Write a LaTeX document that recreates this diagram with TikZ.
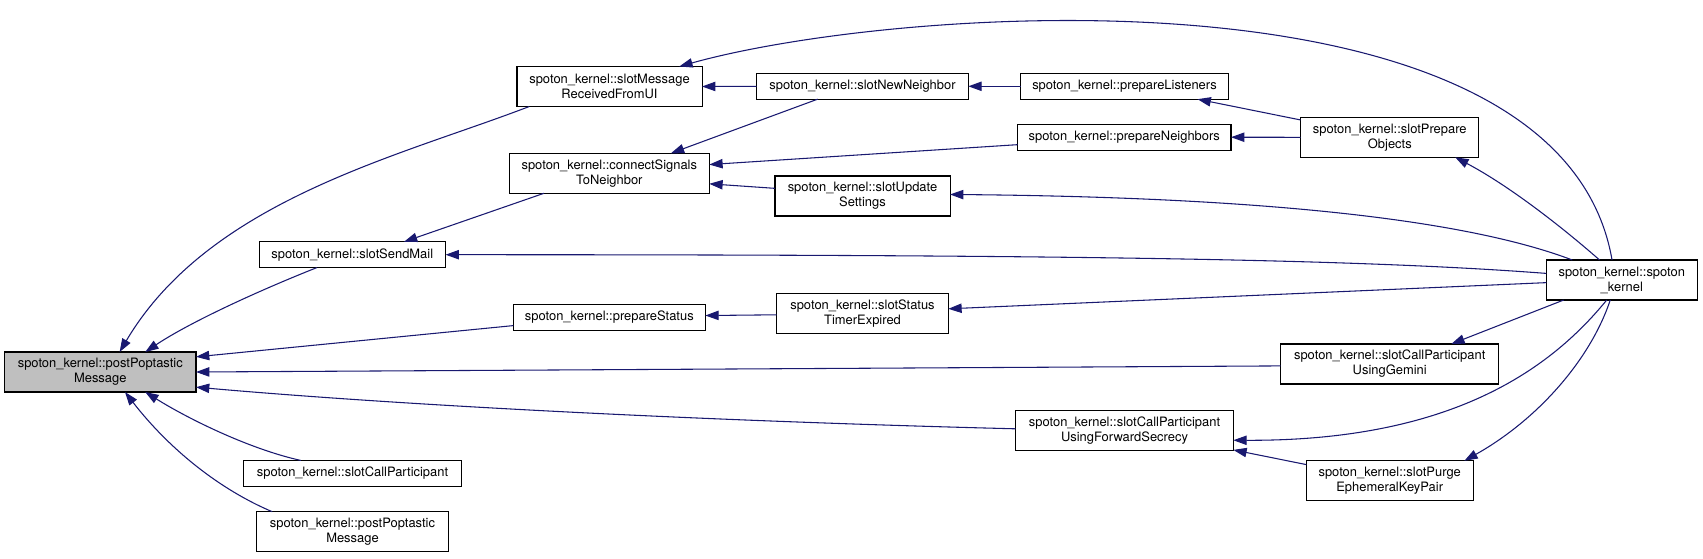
\documentclass[tikz,border=0pt]{standalone}
\usepackage{fontspec}
\setmainfont{TeX Gyre Heros}
\usepackage{xcolor}
\usetikzlibrary{arrows.meta}
\definecolor{edgeblue}{RGB}{25,25,112}
\definecolor{curgray}{RGB}{191,191,191}

\begin{document}
\begin{tikzpicture}[x=0.75pt,y=0.75pt,yscale=-1,xscale=1,
  fnbox/.style={draw=black, line width=0.8pt, fill=white, inner sep=0pt, outer sep=0pt, align=center, font=\fontsize{9.7}{11.25}\selectfont, minimum height=19.3pt},
  fnbox2/.style={fnbox, minimum height=30pt},
  callarrow/.style={draw=edgeblue, line width=0.8pt, -{Triangle[length=10pt,width=7pt]}}]
\useasboundingbox (0,0) rectangle (1703,558);

%Node: current function
\node [fnbox2, fill=curgray, minimum width=143.5pt] (pp) at (100.3,372) {spoton\_kernel::postPoptastic\\Message};
%Nodes: second column
\node [fnbox, minimum width=139.9pt] (ssm) at (352.3,254.7) {spoton\_kernel::slotSendMail};
\node [fnbox, minimum width=163.8pt] (scp) at (352.5,473.3) {spoton\_kernel::slotCallParticipant};
\node [fnbox2, minimum width=143.7pt] (ppm) at (352.5,531.7) {spoton\_kernel::postPoptastic\\Message};
%Nodes: third column
\node [fnbox2, minimum width=138.8pt] (smr) at (609.5,86.5) {spoton\_kernel::slotMessage\\ReceivedFromUI};
\node [fnbox2, minimum width=150pt] (cstn) at (609.3,173.3) {spoton\_kernel::connectSignals\\ToNeighbor};
\node [fnbox, minimum width=144pt] (pst) at (609.3,317.2) {spoton\_kernel::prepareStatus};
%Nodes: fourth column
\node [fnbox, minimum width=158.7pt] (snn) at (862.5,86.3) {spoton\_kernel::slotNewNeighbor};
\node [fnbox2, minimum width=131.3pt] (sus) at (862.5,196) {spoton\_kernel::slotUpdate\\Settings};
\node [fnbox2, minimum width=128.7pt] (sste) at (862.5,313.3) {spoton\_kernel::slotStatus\\TimerExpired};
%Nodes: fifth column
\node [fnbox, minimum width=155.7pt] (pl) at (1124.5,86.3) {spoton\_kernel::prepareListeners};
\node [fnbox, minimum width=160pt] (pn) at (1124.3,137.2) {spoton\_kernel::prepareNeighbors};
\node [fnbox2, minimum width=163.2pt] (scpfs) at (1124.5,430.7) {spoton\_kernel::slotCallParticipant\\UsingForwardSecrecy};
%Nodes: sixth column
\node [fnbox2, minimum width=133.7pt] (spo) at (1389.8,137.3) {spoton\_kernel::slotPrepare\\Objects};
\node [fnbox2, minimum width=163.5pt] (scpg) at (1389.7,364) {spoton\_kernel::slotCallParticipant\\UsingGemini};
\node [fnbox2, minimum width=125pt] (spek) at (1389.7,480.8) {spoton\_kernel::slotPurge\\EphemeralKeyPair};
%Node: constructor
\node [fnbox2, minimum width=113.3pt] (sk) at (1621.8,280) {spoton\_kernel::spoton\\\_kernel};

%Curve Lines: callers of postPoptasticMessage
\draw [callarrow] (smr.-166) .. controls +(-130,50) and +(90,-152) .. (pp.46);
\draw [callarrow] (ssm.-160) .. controls +(-58,23) and +(45,-30) .. (pp.24);
\draw [callarrow] (scpfs.179) .. controls +(-316,-8) and +(204,18) .. (pp.-9);
\draw [callarrow] (scp.166) .. controls +(-50,-11) and +(45,28) .. (pp.-24);
\draw [callarrow] (ppm.166) .. controls +(-52,-22) and +(45,58) .. (pp.-39);
%Straight Lines
\draw [callarrow] (pst.185) -- (pp.9);
\draw [callarrow] (scpg.181) -- (pp.east);

%Straight Lines: middle of the graph
\draw [callarrow] (snn.west) -- (smr.east);
\draw [callarrow] (snn.-164) -- (cstn.18);
\draw [callarrow] (pn.-176) -- (cstn.5);
\draw [callarrow] (sus.175) -- (cstn.-6);
\draw [callarrow] (cstn.-163) -- (ssm.14);
\draw [callarrow] (pl.west) -- (snn.east);
\draw [callarrow] (spo.169) -- (pl.-10);
\draw [callarrow] (spo.west) -- (pn.east);
\draw [callarrow] (sste.181) -- (pst.1);
\draw [callarrow] (spek.169) -- (scpfs.-10);

%Curve Lines: out of spoton_kernel
\draw [callarrow] (sk.116) .. controls +(-52,-300) and +(222,-62) .. (smr.16);
\draw [callarrow] (sk.175) .. controls +(-196,-15) and +(600,0) .. (ssm.east);
\draw [callarrow] (sk.138) .. controls +(-40,-35) and +(53,28) .. (spo.-17);
\draw [callarrow] (sk.158) .. controls +(-92,-35) and +(350,3) .. (sus.1);
\draw [callarrow] (sk.182) -- (sste.3);
\draw [callarrow] (sk.-161) -- (scpg.18);
\draw [callarrow] (sk.-127) .. controls +(-57,70) and +(217,1) .. (scpfs.-5);
\draw [callarrow] (sk.-120) .. controls +(-20,60) and +(73,-41) .. (spek.15);

\end{tikzpicture}
\end{document}
